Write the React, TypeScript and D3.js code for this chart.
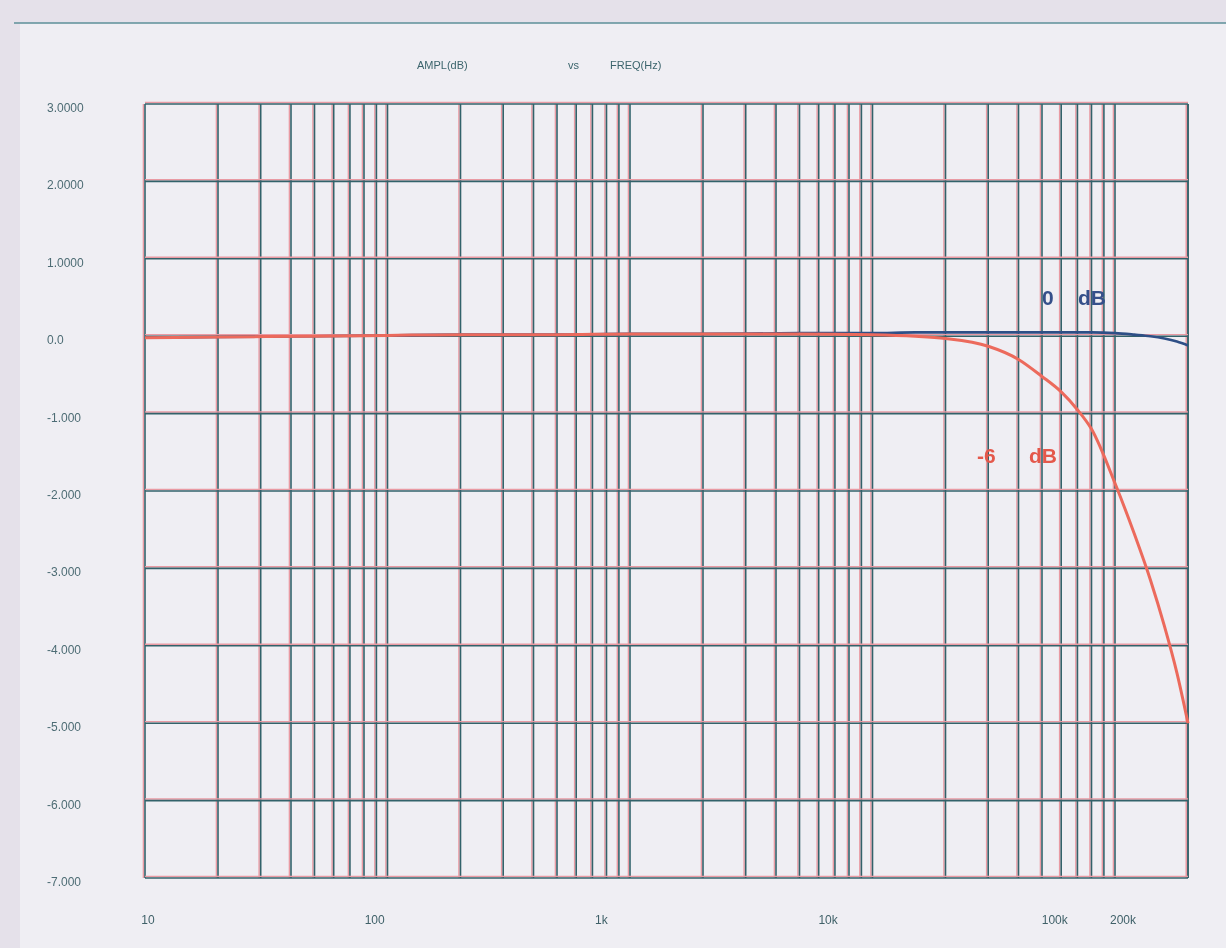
import React, { useEffect, useRef } from 'react';
import * as d3 from 'd3';

// frequency points (Hz)
const freqs = [10, 20, 50, 100, 200, 500, 1000, 2000, 5000, 10000, 15000, 20000, 30000, 40000, 50000, 60000, 70000, 80000, 100000, 120000, 140000, 160000, 180000, 200000];
const ampZero = [-0.02, -0.01, 0, 0.01, 0.02, 0.02, 0.03, 0.03, 0.04, 0.04, 0.05, 0.05, 0.05, 0.05, 0.05, 0.05, 0.05, 0.05, 0.04, 0.02, 0.0, -0.03, -0.07, -0.12];
const ampMinus6 = [-0.02, -0.01, 0, 0.01, 0.02, 0.02, 0.03, 0.03, 0.03, 0.02, 0.0, -0.03, -0.13, -0.3, -0.52, -0.72, -0.95, -1.2, -1.9, -2.55, -3.15, -3.75, -4.35, -5.0];

const yTicks = [3, 2, 1, 0, -1, -2, -3, -4, -5, -6, -7];
const yTickLabels = ['3.0000', '2.0000', '1.0000', '0.0', '-1.000', '-2.000', '-3.000', '-4.000', '-5.000', '-6.000', '-7.000'];
const xTicks = [10, 100, 1000, 10000, 100000, 200000];
const xTickLabels = ['10', '100', '1k', '10k', '100k', '200k'];

const App = () => {
    const svgRef = useRef<SVGSVGElement>(null);

    useEffect(() => {
        const W = 1226;
        const H = 948;
        const margin = { top: 104, right: 38, bottom: 70, left: 145 };
        const width = W - margin.left - margin.right;
        const height = H - margin.top - margin.bottom;

        const root = d3.select(svgRef.current);
        root.selectAll('*').remove();
        root.attr('width', W).attr('height', H);

        const defs = root.append('defs');
        defs.append('filter')
            .attr('id', 'soft')
            .append('feGaussianBlur')
            .attr('stdDeviation', 0.6);

        const all = root.append('g').attr('filter', 'url(#soft)');

        // scanned page background
        all.append('rect').attr('width', W).attr('height', H).attr('fill', '#e5e1ea');
        all.append('rect')
            .attr('x', 20).attr('y', 23)
            .attr('width', W - 20).attr('height', H - 23)
            .attr('fill', '#efeef3');
        all.append('line')
            .attr('x1', 14).attr('x2', W).attr('y1', 23).attr('y2', 23)
            .attr('stroke', '#5c8f98').attr('stroke-width', 1.5);

        const svg = all.append('g').attr('transform', `translate(${margin.left}, ${margin.top})`);

        const xScale = d3.scaleLog().domain([10, 200000]).range([0, width]);
        const yScale = d3.scaleLinear().domain([3, -7]).range([0, height]);
        // printed frequency labels sit on a slightly compressed scale
        const xLabelScale = d3.scaleLog().domain([10, 200000]).range([3, 978]);

        const minorX: number[] = [];
        [10, 100, 1000, 10000, 100000].forEach(dec => {
            for (let m = 1; m <= 9; m++) {
                const f = dec * m;
                if (f <= 200000) minorX.push(f);
            }
        });
        minorX.push(200000);

        // grid: red fringe + dark teal core, like the scan
        const drawV = (f: number) => {
            const x = xScale(f);
            svg.append('line')
                .attr('x1', x - 1.6).attr('x2', x - 1.6).attr('y1', 0).attr('y2', height)
                .attr('stroke', '#e99aa3').attr('stroke-width', 1.4);
            svg.append('line')
                .attr('x1', x).attr('x2', x).attr('y1', 0).attr('y2', height)
                .attr('stroke', '#33626b').attr('stroke-width', 1.6);
        };
        const drawH = (v: number) => {
            const y = yScale(v);
            svg.append('line')
                .attr('x1', 0).attr('x2', width).attr('y1', y - 1.6).attr('y2', y - 1.6)
                .attr('stroke', '#e99aa3').attr('stroke-width', 1.4);
            svg.append('line')
                .attr('x1', 0).attr('x2', width).attr('y1', y).attr('y2', y)
                .attr('stroke', '#33626b').attr('stroke-width', 1.6);
        };
        minorX.forEach(drawV);
        yTicks.forEach(drawH);

        const labelFont = '"Liberation Sans Narrow", "Liberation Sans", Arial, sans-serif';

        // y labels
        yTicks.forEach((v, i) => {
            svg.append('text')
                .attr('x', 47 - margin.left)
                .attr('y', yScale(v) + 8)
                .style('font-family', labelFont)
                .style('font-size', '12px')
                .attr('fill', '#4d6c74')
                .text(yTickLabels[i]);
        });

        // x labels
        xTicks.forEach((f, i) => {
            svg.append('text')
                .attr('x', xLabelScale(f))
                .attr('y', height + 46)
                .attr('text-anchor', 'middle')
                .style('font-family', labelFont)
                .style('font-size', '12px')
                .attr('fill', '#3f6068')
                .text(xTickLabels[i]);
        });

        // title
        const titleY = 69 - margin.top;
        [['AMPL(dB)', 417], ['vs', 568], ['FREQ(Hz)', 610]].forEach(([t, x]) => {
            svg.append('text')
                .attr('x', (x as number) - margin.left)
                .attr('y', titleY)
                .style('font-family', labelFont)
                .style('font-size', '11px')
                .attr('fill', '#3b646c')
                .text(t as string);
        });

        const line = (vals: number[]) =>
            d3.line<number>()
                .x((_, i) => xScale(freqs[i]))
                .y(d => yScale(d))
                .curve(d3.curveMonotoneX)(vals);

        svg.append('path')
            .attr('d', line(ampZero))
            .attr('fill', 'none')
            .attr('stroke', '#2f4f86')
            .attr('stroke-width', 2.6);

        svg.append('path')
            .attr('d', line(ampMinus6))
            .attr('fill', 'none')
            .attr('stroke', '#ec6a5c')
            .attr('stroke-width', 3);

        // series labels
        const seriesFont = 'Arial, "Liberation Sans", sans-serif';
        const addLabel = (t: string, x: number, v: number, color: string) => {
            svg.append('text')
                .attr('x', x - margin.left)
                .attr('y', yScale(v))
                .style('font-family', seriesFont)
                .style('font-size', '21px')
                .style('font-weight', 'bold')
                .attr('fill', color)
                .text(t);
        };
        addLabel('0', 1042, 0.4, '#34508a');
        addLabel('dB', 1078, 0.4, '#34508a');
        addLabel('-6', 977, -1.64, '#e4594c');
        addLabel('dB', 1029, -1.64, '#e4594c');
    }, []);

    return <svg ref={svgRef} style={{ position: 'absolute', left: 0, top: 0, display: 'block' }}></svg>;
};

export default App;
